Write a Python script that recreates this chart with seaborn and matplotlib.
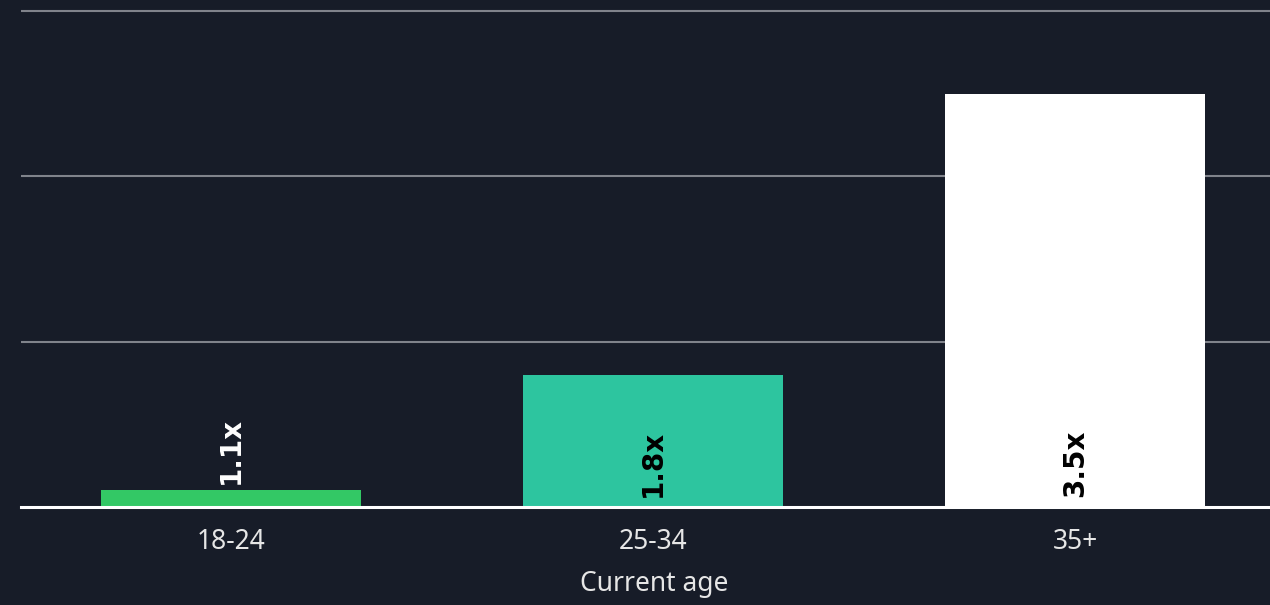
import matplotlib.pyplot as plt
import seaborn as sns
import pandas as pd

# data
ages = ["18-24", "25-34", "35+"]
multipliers = [1.1, 1.8, 3.5]
labels = ["1.1x", "1.8x", "3.5x"]
bar_colors = ["#33c865", "#2dc59f", "#ffffff"]
label_colors = ["#ffffff", "#000000", "#000000"]

BG = "#171c28"

sns.set_theme(style="dark")
plt.rcParams["font.family"] = ["Noto Sans", "DejaVu Sans"]

df = pd.DataFrame({"age": ages, "mult": multipliers})

fig = plt.figure(figsize=(12.7, 6.05), dpi=100, facecolor=BG)
# axes spans from x=21px to the right edge, y from top to baseline at 507px
ax = fig.add_axes([21 / 1270, 98 / 605, 1 - 21 / 1270, 507 / 605])
ax.set_facecolor(BG)

sns.barplot(data=df, x="age", y="mult", hue="age", palette=bar_colors,
            legend=False, width=0.616, ax=ax, saturation=1, zorder=3,
            linewidth=0, edgecolor="none")

# multiplier axis starts at 1x
ax.set_ylim(1, 4 + 11 / 165.3)
ax.set_xlim(-0.498, 2.462)
ax.set_yticks([2, 3, 4])
ax.yaxis.grid(True, color="#80838b", linewidth=1.5, zorder=1)
ax.xaxis.grid(False)
ax.tick_params(axis="y", left=False, labelleft=False)
ax.tick_params(axis="x", bottom=False, colors="#e6e6e6", labelsize=19, pad=9)

for s in ["top", "right", "left"]:
    ax.spines[s].set_visible(False)
ax.spines["bottom"].set_color("#ffffff")
ax.spines["bottom"].set_linewidth(2.2)
ax.spines["bottom"].set_zorder(4)

ax.set_ylabel("")
ax.set_xlabel("Current age", color="#e6e6e6", fontsize=19)
ax.xaxis.set_label_coords(0.507, -0.125)

for i, (v, txt, c) in enumerate(zip(multipliers, labels, label_colors)):
    anchor = (i, v) if v < 1.5 else (i, 1)
    off = 5 if v < 1.5 else 7
    ax.annotate(txt, anchor, xytext=(0, off), textcoords="offset points",
                rotation=90, ha="center", va="bottom", color=c,
                fontsize=20, fontweight="bold", family="DejaVu Sans", zorder=5)

fig.savefig("out.png", dpi=100, facecolor=BG)
